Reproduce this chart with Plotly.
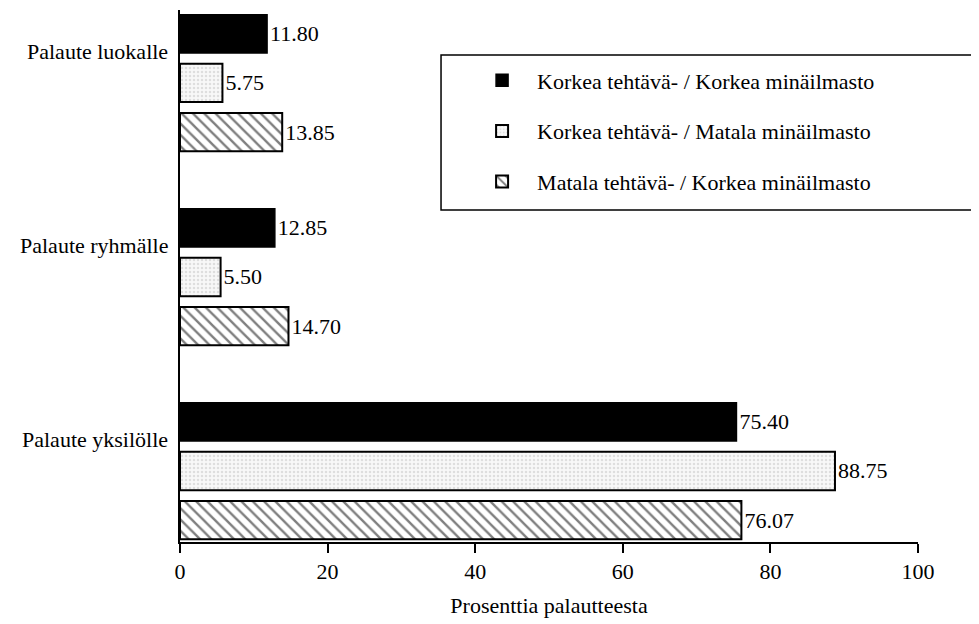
import plotly.graph_objects as go

categories = ["Palaute luokalle", "Palaute ryhmälle", "Palaute yksilölle"]
series_names = [
    "Korkea tehtävä- / Korkea minäilmasto",
    "Korkea tehtävä- / Matala minäilmasto",
    "Matala tehtävä- / Korkea minäilmasto",
]
high_high = [11.80, 12.85, 75.40]
high_low = [5.75, 5.50, 88.75]
low_high = [13.85, 14.70, 76.07]
x_ticks = [0, 20, 40, 60, 80, 100]

FONT = "Liberation Serif"
FS = 22

styles = [
    dict(color="black", line=dict(color="black", width=1.5)),
    dict(color="#f4f4f4", line=dict(color="black", width=2),
         pattern=dict(shape=".", fgcolor="#c4c4c4", bgcolor="#f8f8f8", size=4, solidity=0.3)),
    dict(color="white", line=dict(color="black", width=2),
         pattern=dict(shape="\\", fgcolor="black", bgcolor="white", size=8, solidity=0.3)),
]

fig = go.Figure()
for i, (name, vals) in enumerate(zip(series_names, [high_high, high_low, low_high])):
    fig.add_trace(go.Bar(
        y=categories, x=vals, orientation="h", name=name,
        legendgroup=f"g{i}",
        marker=styles[i],
        text=[f"{v:.2f}" for v in vals], textposition="outside",
        textfont=dict(family=FONT, size=FS, color="black"),
        cliponaxis=False,
    ))

for c in categories:
    fig.add_annotation(x=0, y=c, xref="x", yref="y", text=c, showarrow=False,
                       xanchor="right", xshift=-10, yshift=31,
                       font=dict(family=FONT, size=FS, color="black"))

# legend frame
fig.add_shape(type="rect", xref="paper", yref="paper",
              x0=0.3537, x1=1.0813, y0=0.6241, y1=0.9154,
              line=dict(color="black", width=1.5), fillcolor="white", layer="below")

fig.update_layout(
    width=979, height=624,
    margin=dict(l=172, r=69, t=2, b=90),
    plot_bgcolor="white", paper_bgcolor="white",
    barmode="group", bargap=0.24, bargroupgap=0.22,
    font=dict(family=FONT, size=FS, color="black"),
    showlegend=True,
    legend=dict(x=0.389, y=0.907, xanchor="left", yanchor="top",
                borderwidth=0, bgcolor="rgba(0,0,0,0)",
                font=dict(family=FONT, size=FS, color="black"),
                itemwidth=60,
                tracegroupgap=19, traceorder="grouped"),
    xaxis=dict(range=[0, 100], tickvals=x_ticks, showgrid=False, zeroline=False,
               showline=True, linecolor="black", linewidth=2,
               ticks="outside", ticklen=9, tickwidth=2, tickcolor="black",
               tickfont=dict(family=FONT, size=FS),
               title=dict(text="Prosenttia palautteesta", standoff=14,
                          font=dict(family=FONT, size=FS))),
    yaxis=dict(categoryorder="array", categoryarray=categories,
               range=[2.366, -0.376], showticklabels=False, ticks="",
               showgrid=False, zeroline=False,
               showline=True, linecolor="black", linewidth=2),
)

fig.write_html("out.html")
